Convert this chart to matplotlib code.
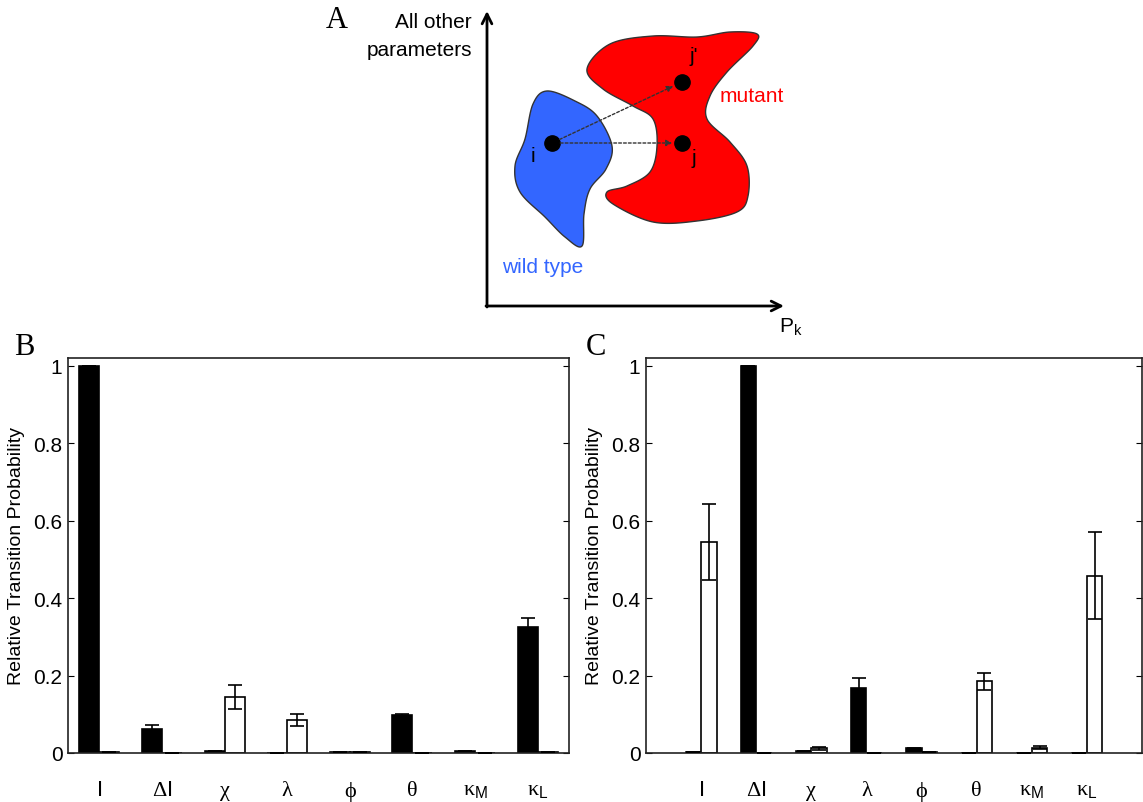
import numpy as np
import matplotlib
matplotlib.use("Agg")
import matplotlib.pyplot as plt

plt.rcParams["font.family"] = ["Liberation Sans", "DejaVu Sans"]
plt.rcParams["mathtext.fontset"] = "custom"
plt.rcParams["mathtext.sf"] = "Liberation Sans"
plt.rcParams["mathtext.rm"] = "Liberation Sans"

# ---- data -------------------------------------------------------------
params = ["$\\mathsf{I}$", "\u0394$\\mathsf{I}$", "\u03c7", "\u03bb", "\u03d5",
          "\u03b8", "\u03ba$_{\\mathsf{M}}$", "\u03ba$_{\\mathsf{L}}$"]

b_black = [1.000, 0.062, 0.004, 0.001, 0.003, 0.098, 0.004, 0.325]
b_black_err = [0.000, 0.010, 0.000, 0.000, 0.000, 0.002, 0.000, 0.024]
b_white = [0.003, 0.001, 0.145, 0.086, 0.002, 0.001, 0.001, 0.002]
b_white_err = [0.000, 0.000, 0.031, 0.015, 0.000, 0.000, 0.000, 0.000]

c_black = [0.002, 1.000, 0.004, 0.167, 0.012, 0.001, 0.001, 0.001]
c_black_err = [0.000, 0.000, 0.000, 0.027, 0.002, 0.000, 0.000, 0.000]
c_white = [0.545, 0.001, 0.012, 0.000, 0.002, 0.185, 0.014, 0.458]
c_white_err = [0.097, 0.000, 0.003, 0.000, 0.000, 0.022, 0.003, 0.113]

# schematic shapes for panel A (figure pixel coordinates)
wild_x = [547, 575, 597, 612, 606, 590, 584, 582, 565, 545, 520, 515, 525, 533]
wild_y = [92, 102, 117, 147, 170, 190, 215, 247, 238, 218, 193, 167, 140, 105]
mut_x = [587, 610, 653, 697, 730, 757, 753, 727, 710, 707, 730, 747, 748, 737,
         697, 653, 613, 607, 627, 650, 657, 653, 633, 603]
mut_y = [70, 45, 37, 38, 33, 35, 47, 73, 97, 120, 143, 167, 197, 213,
         222, 223, 205, 193, 187, 173, 147, 120, 107, 90]
pt_i = (552, 144)
pt_j = (682, 144)
pt_jp = (682, 83)


def smooth_closed(xs, ys, n=24):
    """Catmull-Rom spline through a closed list of points."""
    p = np.column_stack([xs, ys]).astype(float)
    m = len(p)
    out = []
    for k in range(m):
        p0, p1, p2, p3 = p[k - 1], p[k], p[(k + 1) % m], p[(k + 2) % m]
        t = np.linspace(0, 1, n, endpoint=False)[:, None]
        seg = 0.5 * ((2 * p1) + (-p0 + p2) * t
                     + (2 * p0 - 5 * p1 + 4 * p2 - p3) * t ** 2
                     + (-p0 + 3 * p1 - 3 * p2 + p3) * t ** 3)
        out.append(seg)
    return np.vstack(out)


W, H = 1143, 803
fig = plt.figure(figsize=(W / 100, H / 100), dpi=100)

# ---- panel A: schematic drawn on a figure-sized canvas -----------------
canvas = fig.add_axes([0, 0, 1, 1])
canvas.set_xlim(0, W)
canvas.set_ylim(H, 0)
canvas.axis("off")

shape = smooth_closed(mut_x, mut_y)
canvas.fill(shape[:, 0], shape[:, 1], color="#ff0000", ec="#333333", lw=1.0)
shape = smooth_closed(wild_x, wild_y)
canvas.fill(shape[:, 0], shape[:, 1], color="#3366ff", ec="#333333", lw=1.0)

canvas.annotate("", xy=(487, 12), xytext=(487, 308),
                arrowprops=dict(arrowstyle="->,head_length=0.7,head_width=0.35",
                                lw=2, color="black", shrinkA=0, shrinkB=0))
canvas.annotate("", xy=(784, 307), xytext=(486, 307),
                arrowprops=dict(arrowstyle="->,head_length=0.7,head_width=0.35",
                                lw=2, color="black", shrinkA=0, shrinkB=0))

for target in (pt_jp, pt_j):
    canvas.annotate("", xy=target, xytext=pt_i,
                    arrowprops=dict(arrowstyle="-|>", lw=1.0, color="#333333",
                                    linestyle=(0, (2, 1.5)), shrinkA=6,
                                    shrinkB=7, mutation_scale=9))
for pt in (pt_i, pt_j, pt_jp):
    canvas.plot(*pt, "o", color="black", ms=11)

canvas.text(533, 156, "i", fontsize=15, ha="center", va="center")
canvas.text(694, 158, "j", fontsize=15, ha="center", va="center")
canvas.text(694, 57, "j'", fontsize=15, ha="center", va="center")
canvas.text(720, 97, "mutant", fontsize=15, color="#ff0000", va="center")
canvas.text(502, 268, "wild type", fontsize=15, color="#3366ff", va="center")
canvas.text(472, 23, "All other", fontsize=15, ha="right", va="center")
canvas.text(472, 50, "parameters", fontsize=15, ha="right", va="center")
canvas.text(779, 327, "P$_\\mathregular{k}$", fontsize=15, va="center")

serif = ["Liberation Serif", "DejaVu Serif"]
canvas.text(337, 20, "A", fontsize=22, family=serif, ha="center", va="center")
canvas.text(24, 348, "B", fontsize=22, family=serif, ha="center", va="center")
canvas.text(596, 348, "C", fontsize=22, family=serif, ha="center", va="center")


# ---- panels B and C ----------------------------------------------------
def bar_panel(rect, black, black_err, white, white_err, width, xlim):
    ax = fig.add_axes(rect)
    x = np.arange(1, len(params) + 1)
    ax.bar(x - width / 2, black, width, color="black", ec="black", lw=1.2,
           zorder=2)
    ax.bar(x + width / 2, white, width, color="white", ec="black", lw=1.2,
           zorder=2)
    ax.errorbar(x - width / 2, black, yerr=black_err, fmt="none",
                ecolor="black", elinewidth=1.2, capsize=5, capthick=1.2,
                zorder=3)
    ax.errorbar(x + width / 2, white, yerr=white_err, fmt="none",
                ecolor="black", elinewidth=1.2, capsize=5, capthick=1.2,
                zorder=3)
    ax.set_xlim(*xlim)
    ax.set_ylim(0, 1.02)
    ax.set_xticks(x)
    ax.set_xticklabels(params, family=serif, fontsize=16)
    ax.set_yticks([0, 0.2, 0.4, 0.6, 0.8, 1.0])
    ax.set_yticklabels(["0", "0.2", "0.4", "0.6", "0.8", "1"], fontsize=15)
    ax.tick_params(axis="x", length=0, pad=20)
    ax.tick_params(axis="y", direction="in", length=4, right=True, pad=4)
    ax.set_ylabel("Relative Transition Probability", fontsize=14,
                  labelpad=6)
    for sp in ax.spines.values():
        sp.set_linewidth(1.2)
        sp.set_color("#222222")
    return ax


bottom = (H - 754) / H
height = (754 - 359) / H
bar_panel([68 / W, bottom, 501 / W, height], b_black, b_black_err,
          b_white, b_white_err, 0.32, (0.5, 8.5))
bar_panel([646 / W, bottom, 496 / W, height], c_black, c_black_err,
          c_white, c_white_err, 0.283, (0, 9))

fig.savefig("out.png", dpi=100)
